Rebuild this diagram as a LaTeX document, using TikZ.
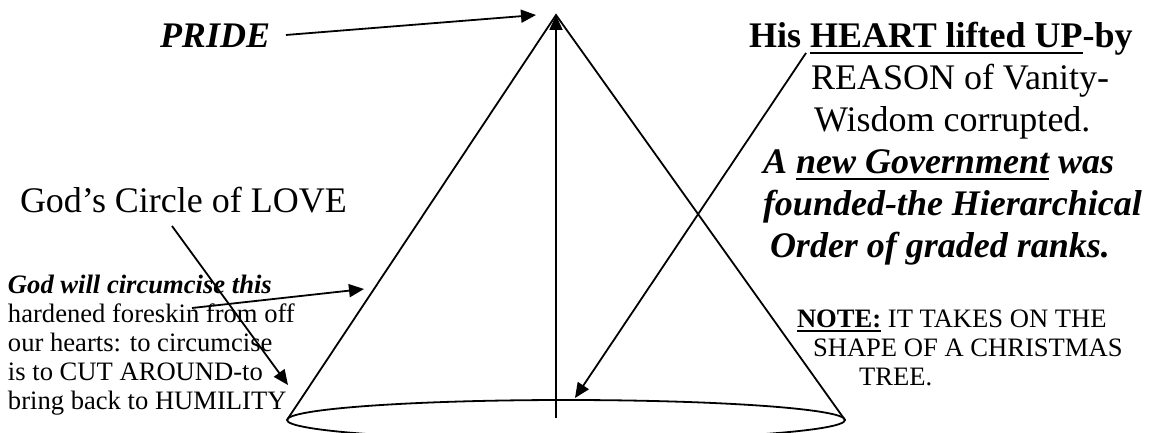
\documentclass[tikz,border=0pt]{standalone}
\usepackage{fontspec}
\setmainfont{Liberation Serif}
\newcommand{\myul}[2][-7pt]{\leavevmode\setbox0=\hbox{#2}\rlap{\rule[#1]{\wd0}{2.5pt}}\box0\relax}
\usetikzlibrary{arrows.meta}
\begin{document}
\begin{tikzpicture}[x=1pt,y=-1pt,
  line/.style={line width=1.8pt, black},
  arr/.style={line width=1.8pt, black, -{Triangle[length=15pt,width=13pt]}},
  big/.style={font=\fontsize{36}{42}\selectfont},
  small/.style={font=\fontsize{26.6}{29}\selectfont},
  blk/.style={inner sep=0pt, outer sep=0pt, align=left, anchor=base west}]
\useasboundingbox (0,0) rectangle (1171,433);
% cone
\coordinate (apex) at (556,15);
\coordinate (bl) at (287,420);
\coordinate (br) at (845,420);
\coordinate (bc) at (566,420);
\coordinate (stem) at (556,418);
\draw[line] (bc) ellipse [x radius=279, y radius=20];
\draw[line] (bl) -- (apex) -- (br);
\draw[arr] (stem) -- (apex);
% texts (anchor = baseline of last line)
\node[big, blk, font=\fontsize{36}{42}\selectfont\bfseries\itshape] (pride) at (160,48) {PRIDE};
\node[big, blk] (gcl) at (20,213) {God’s Circle of LOVE};
\node[small, blk] (circ) at (8,409) {{\bfseries\itshape God will circumcise this}\\hardened foreskin from off\\our hearts: to circumcise\\is to CUT AROUND-to\\bring back to HUMILITY};
\node[big, blk] (heart) at (749,257) {\textbf{His \myul{HEART lifted UP}-by}\\
\hspace*{62pt}REASON of Vanity-\\
\hspace*{65pt}Wisdom corrupted.\\
\hspace*{14pt}\textbf{\textit{A \myul{new Government} was}}\\
\hspace*{14pt}\textbf{\textit{founded-the Hierarchical}}\\
\hspace*{21pt}\textbf{\textit{Order of graded ranks.}}};
\node[small, blk] (note) at (797,385) {\myul[-5pt]{\textbf{NOTE:}} IT TAKES ON THE\\
\hspace*{16pt}SHAPE OF A CHRISTMAS\\
\hspace*{62pt}TREE.};
% arrow ends
\coordinate (prideTip) at (536,15);
\coordinate (gcStart) at (172,226);
\coordinate (gcTip) at (288,385);
\coordinate (circStart) at (192,308);
\coordinate (circTip) at (364,289);
\coordinate (heartStart) at (806,53);
\coordinate (heartTip) at (575,398);
% connectors
\draw[arr, shorten <=16pt] (pride.east) -- (prideTip);
\draw[arr] (gcStart) -- (gcTip);
\draw[arr] (circStart) -- (circTip);
\draw[arr] (heartStart) -- (heartTip);
\end{tikzpicture}
\end{document}
